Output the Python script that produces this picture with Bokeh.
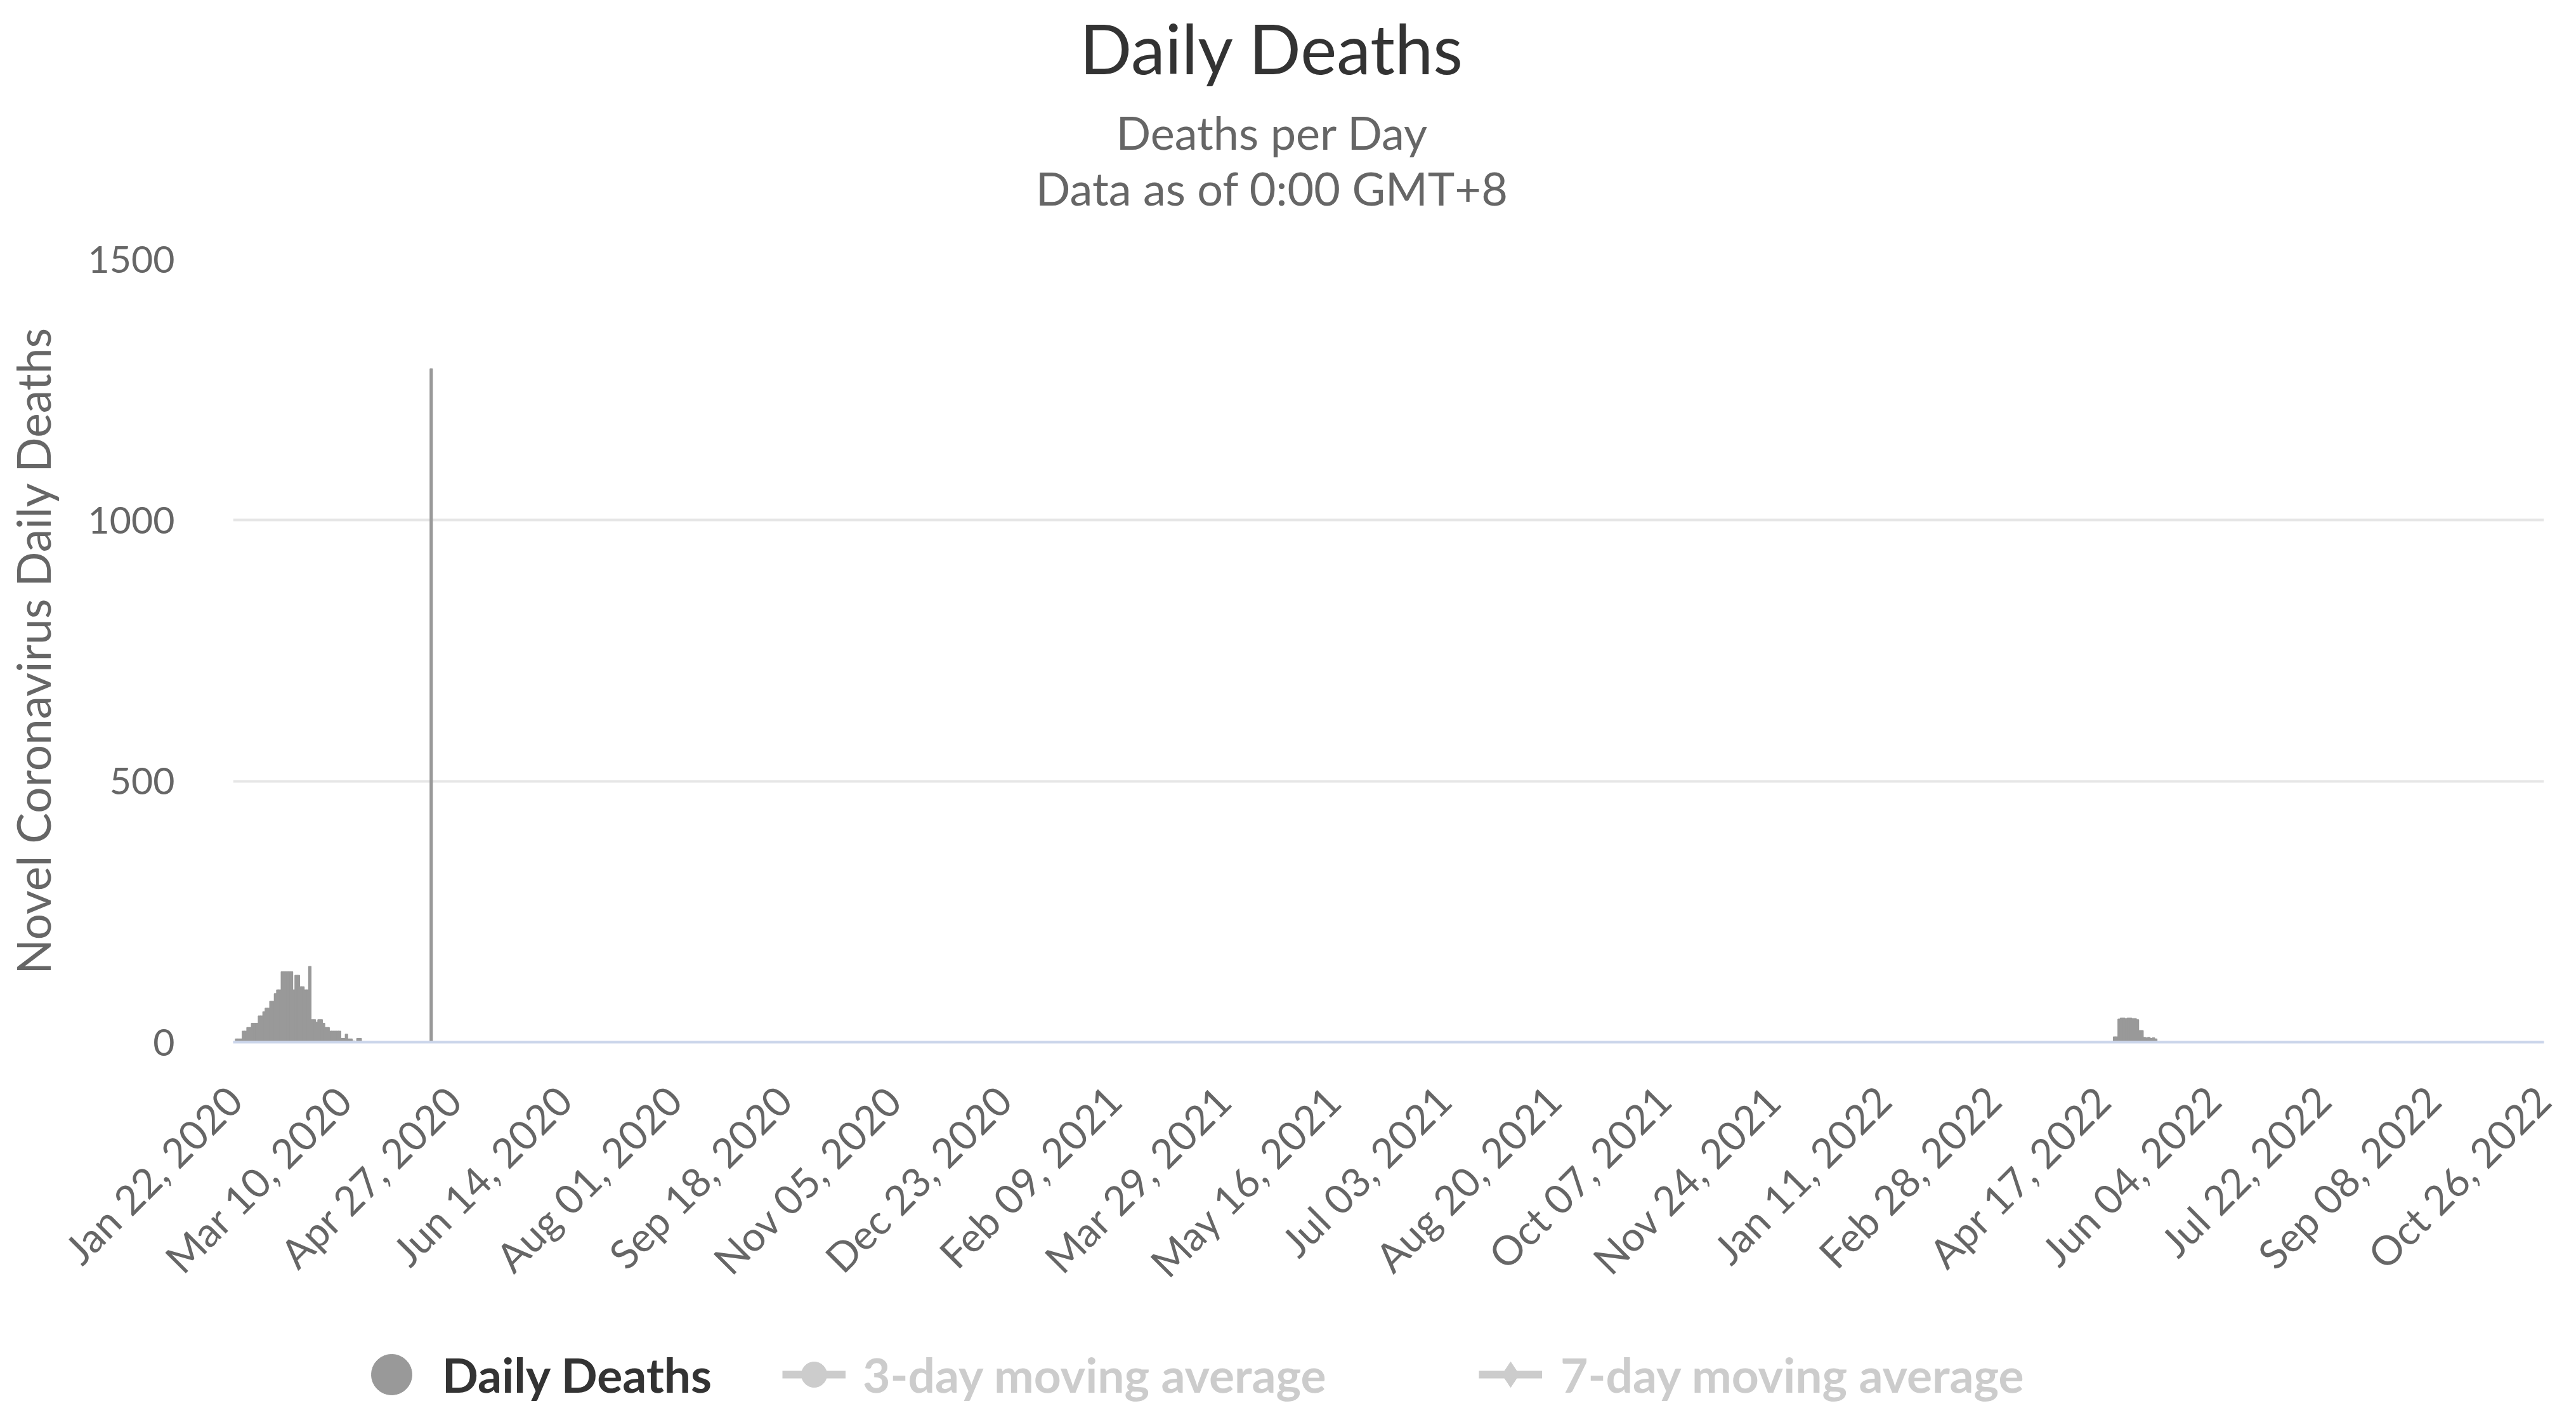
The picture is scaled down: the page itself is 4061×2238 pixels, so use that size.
import math
import numpy as np
import pandas as pd
from bokeh.plotting import figure
from bokeh.layouts import column
from bokeh.models import (Range1d, FixedTicker, Label, Legend, LegendItem,
                          ColumnDataSource)
from bokeh.embed import file_html
from bokeh.resources import INLINE

# ---------------- data ----------------
first_day = "2020-01-22"
last_day = "2022-10-26"

tick_labels = ["Jan 22, 2020", "Mar 10, 2020", "Apr 27, 2020", "Jun 14, 2020",
               "Aug 01, 2020", "Sep 18, 2020", "Nov 05, 2020", "Dec 23, 2020",
               "Feb 09, 2021", "Mar 29, 2021", "May 16, 2021", "Jul 03, 2021",
               "Aug 20, 2021", "Oct 07, 2021", "Nov 24, 2021", "Jan 11, 2022",
               "Feb 28, 2022", "Apr 17, 2022", "Jun 04, 2022", "Jul 22, 2022",
               "Sep 08, 2022", "Oct 26, 2022"]

wave1_start = "2020-01-23"
wave1_deaths = [6, 6, 6, 21, 21, 28, 28, 36, 36, 36,
                50, 50, 58, 65, 65, 78, 78, 93, 100, 100,
                135, 135, 135, 135, 135, 100, 128, 128, 106, 106,
                100, 100, 145, 43, 43, 38, 43, 43, 36, 28,
                28, 21, 21, 21, 21, 21, 7, 7, 15, 6,
                6, 2, 0, 7, 7]

revision_day = "2020-04-17"
revision_deaths = 1290

wave2_start = "2022-04-22"
wave2_deaths = [10, 10, 44, 46, 46, 45, 46, 46, 45, 45,
                43, 22, 22, 9, 8, 9, 7, 8, 6]

y_ticks = [0, 500, 1000, 1500]

title_text = "Daily Deaths"
subtitle_lines = ["Deaths per Day", "Data as of 0:00 GMT+8"]
y_title = "Novel Coronavirus Daily Deaths"
legend_labels = ["Daily Deaths", "3-day moving average", "7-day moving average"]

# ---------------- build series ----------------
dates = pd.date_range(first_day, last_day, freq="D")
daily = pd.Series(0.0, index=dates)
daily.loc[pd.date_range(wave1_start, periods=len(wave1_deaths))] = wave1_deaths
daily.loc[pd.Timestamp(revision_day)] = revision_deaths
daily.loc[pd.date_range(wave2_start, periods=len(wave2_deaths))] = wave2_deaths

idx = np.arange(len(dates))
all_src = ColumnDataSource(dict(
    x=idx, deaths=daily.values,
    ma3=daily.rolling(3).mean().fillna(0).values,
    ma7=daily.rolling(7).mean().fillna(0).values,
))
nz = daily.values > 0
bar_src = ColumnDataSource(dict(x=idx[nz], deaths=daily.values[nz]))

tick_pos = [int(dates.get_loc(pd.to_datetime(t, format="%b %d, %Y"))) for t in tick_labels]

# ---------------- layout constants ----------------
FONT = "Lato"
W = 4061
TOP_H = 358            # header figure (title + subtitles)
MAIN_H = 1742          # main chart figure
BOT_H = 138            # legend strip
L, R = 367, 51
MAIN_TOP = 50          # frame top inside main fig -> canvas y 408
MAIN_BOTTOM = MAIN_H - MAIN_TOP - 1234


def blank(height, y0, y1):
    # column() aligns the frames of its children, so the frame of these
    # helper figures spans canvas x L .. W-R; map data x = canvas x.
    f = figure(width=W, height=height, output_backend="svg",
               toolbar_location=None, x_range=Range1d(L, W - R),
               y_range=Range1d(y1, y0), min_border=0)
    f.axis.visible = False
    f.grid.visible = False
    f.outline_line_color = None
    f.background_fill_color = "white"
    f.border_fill_color = "white"
    return f


# ---------------- header ----------------
top = blank(TOP_H, 0, TOP_H)


def add_label(fig, text, cx, cy, size, color, style="normal"):
    fig.add_layout(Label(x=cx, y=cy, text=text, text_align="center",
                         text_baseline="middle", text_font=FONT,
                         text_font_size=size, text_color=color,
                         text_font_style=style))


add_label(top, title_text, 2005, 74, "108px", "#333333")
add_label(top, subtitle_lines[0], 2005, 207, "72px", "#666666")
add_label(top, subtitle_lines[1], 2005, 295, "72px", "#666666")

# ---------------- main chart ----------------
p = figure(width=W, height=MAIN_H, output_backend="svg", toolbar_location=None,
           x_range=Range1d(-0.5, len(dates) - 0.5), y_range=Range1d(0, 1500),
           min_border_left=L, min_border_right=R, min_border_top=MAIN_TOP,
           min_border_bottom=MAIN_BOTTOM)
p.outline_line_color = None
p.background_fill_color = "white"
p.border_fill_color = "white"

p.xgrid.visible = False
p.ygrid.grid_line_color = "#e6e6e6"
p.ygrid.grid_line_width = 4
p.yaxis.ticker = FixedTicker(ticks=y_ticks)
p.yaxis.axis_line_color = None
p.yaxis.major_tick_line_color = None
p.yaxis.minor_tick_line_color = None
p.yaxis.major_tick_out = 0
p.yaxis.major_label_standoff = 92
p.yaxis.major_label_text_font = FONT
p.yaxis.major_label_text_font_size = "59px"
p.yaxis.major_label_text_color = "#666666"
p.yaxis.axis_label = y_title
p.yaxis.axis_label_text_font = FONT
p.yaxis.axis_label_text_font_style = "normal"
p.yaxis.axis_label_text_font_size = "73px"
p.yaxis.axis_label_text_color = "#666666"
p.yaxis.axis_label_standoff = 40

p.xaxis.ticker = FixedTicker(ticks=tick_pos)
p.xaxis.major_label_overrides = {t: lab for t, lab in zip(tick_pos, tick_labels)}
p.xaxis.axis_line_color = "#ccd6eb"
p.xaxis.axis_line_width = 4
p.xaxis.major_tick_line_color = None
p.xaxis.minor_tick_line_color = None
p.xaxis.major_tick_out = 0
p.xaxis.major_tick_in = 0
p.xaxis.major_label_orientation = math.pi / 4
p.xaxis.major_label_standoff = 80
p.xaxis.major_label_text_font = FONT
p.xaxis.major_label_text_font_size = "64px"
p.xaxis.major_label_text_color = "#666666"

p.vbar(x="x", top="deaths", bottom=0, width=1.0, source=bar_src,
       fill_color="#999999", line_color="#999999", line_width=1.6)

# ---------------- legend strip ----------------
Y0 = TOP_H + MAIN_H
bot = blank(BOT_H, Y0, Y0 + BOT_H)

r_dd = bot.scatter(x="x", y="deaths", source=all_src, marker="circle", size=64,
                   fill_color="#999999", line_color="#999999", visible=False)
r_ma3_l = bot.line(x="x", y="ma3", source=all_src, line_color="#cccccc",
                   line_width=12, visible=False)
r_ma3_m = bot.scatter(x="x", y="ma3", source=all_src, marker="circle", size=46,
                      fill_color="#cccccc", line_color="#cccccc", visible=False)
r_ma7_l = bot.line(x="x", y="ma7", source=all_src, line_color="#cccccc",
                   line_width=12, visible=False)
r_ma7_m = bot.scatter(x="x", y="ma7", source=all_src, marker="diamond", size=60,
                      fill_color="#cccccc", line_color="#cccccc", visible=False)

LEG_CY = 2166


def add_legend(label, renderers, glyph, gx0, standoff, color):
    leg = Legend(items=[LegendItem(label=label, renderers=renderers)],
                 location=(gx0 - L, (Y0 + BOT_H) - (LEG_CY + glyph / 2)),
                 orientation="horizontal", glyph_width=glyph, glyph_height=glyph,
                 label_height=glyph, label_standoff=standoff, padding=0,
                 margin=0, spacing=0, label_text_font=FONT,
                 label_text_font_style="bold", label_text_font_size="75px",
                 label_text_color=color, label_text_baseline="middle",
                 background_fill_alpha=0, border_line_alpha=0,
                 click_policy="none")
    bot.add_layout(leg, "center")


add_legend(legend_labels[0], [r_dd], 160, 537, 0, "#333333")
add_legend(legend_labels[1], [r_ma3_l, r_ma3_m], 100, 1233, 27, "#cccccc")
add_legend(legend_labels[2], [r_ma7_l, r_ma7_m], 100, 2331, 29, "#cccccc")

layout = column(top, p, bot, spacing=0)
open("out.html", "w").write(file_html(layout, INLINE))
